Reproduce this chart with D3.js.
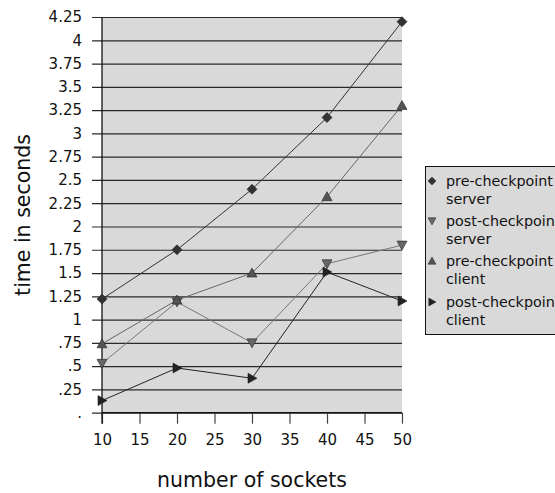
<!DOCTYPE html>
<html><head><meta charset="utf-8">
<script src="https://cdn.jsdelivr.net/npm/d3@7"></script>
<style>body{margin:0;background:#fff}svg{display:block}text{font-family:"DejaVu Sans",sans-serif;fill:#111}</style>
</head><body><svg id="c" width="555" height="493"></svg>
<script>
const sockets = [10, 20, 30, 40, 50];
const xTicks = [10, 15, 20, 25, 30, 35, 40, 45, 50];
const yTicks = [0, .25, .5, .75, 1, 1.25, 1.5, 1.75, 2, 2.25, 2.5, 2.75, 3, 3.25, 3.5, 3.75, 4, 4.25];
const yTickLabels = [".", ".25", ".5", ".75", "1", "1.25", "1.5", "1.75", "2", "2.25", "2.5", "2.75", "3", "3.25", "3.5", "3.75", "4", "4.25"];
const preServer = [1.22, 1.75, 2.40, 3.17, 4.20];
const postServer = [0.53, 1.19, 0.75, 1.60, 1.80];
const preClient = [0.74, 1.21, 1.50, 2.32, 3.30];
const postClient = [0.13, 0.48, 0.37, 1.51, 1.20];
const seriesNames = [["pre-checkpoint", "server"], ["post-checkpoint", "server"], ["pre-checkpoint", "client"], ["post-checkpoint", "client"]];

const series = [
  {vals: preServer, line: "#333", fill: "#333", shape: "diamond"},
  {vals: postServer, line: "#777", fill: "#666", shape: "down"},
  {vals: preClient, line: "#666", fill: "#555", shape: "up"},
  {vals: postClient, line: "#222", fill: "#222", shape: "right"}
];

const svg = d3.select("#c");
const L = 102, R = 402, T = 17, B = 412.7;
const x = d3.scaleLinear().domain([10, 50]).range([L, R]);
const y = d3.scaleLinear().domain([0, 4.25]).range([B, T]);

svg.append("rect").attr("x", L).attr("y", T).attr("width", R - L).attr("height", B - T).attr("fill", "#d9d9d9");

// y axis with gridlines
const yAxis = d3.axisLeft(y).tickValues(yTicks).tickSize(R - L + 10).tickPadding(10)
  .tickFormat((d, i) => yTickLabels[i]);
const gy = svg.append("g").attr("transform", `translate(${R},0)`).call(yAxis);
gy.select(".domain").remove();
gy.selectAll(".tick line").attr("stroke", "#2a2a2a").attr("stroke-width", 1.2);
gy.selectAll(".tick text").attr("font-size", 15).attr("fill", "#111").attr("font-family", "DejaVu Sans");

// x axis
const xAxis = d3.axisBottom(x).tickValues(xTicks).tickSize(11).tickPadding(11).tickFormat(d3.format("d"));
const gx = svg.append("g").attr("transform", `translate(0,${B})`).call(xAxis);
gx.select(".domain").remove();
gx.selectAll(".tick line").attr("stroke", "#444").attr("stroke-width", 1.2);
gx.selectAll(".tick text").attr("font-size", 15).attr("fill", "#111").attr("font-family", "DejaVu Sans");

svg.append("line").attr("x1", L).attr("x2", L).attr("y1", T).attr("y2", B + 11).attr("stroke", "#111").attr("stroke-width", 1.3);
svg.append("line").attr("x1", L).attr("x2", R).attr("y1", B).attr("y2", B).attr("stroke", "#111").attr("stroke-width", 1.3);

function markerPath(shape, s) {
  if (shape === "diamond") return `M0,${-s}L${s},0L0,${s}L${-s},0Z`;
  if (shape === "down") return `M${-s},${-s*0.8}L${s},${-s*0.8}L0,${s}Z`;
  if (shape === "up") return `M${-s},${s*0.8}L${s},${s*0.8}L0,${-s}Z`;
  return `M${-s*0.8},${-s}L${s},0L${-s*0.8},${s}Z`;
}

const line = d3.line().x((d, i) => x(sockets[i])).y(d => y(d));
series.forEach(s => {
  svg.append("path").attr("d", line(s.vals)).attr("fill", "none").attr("stroke", s.line).attr("stroke-width", 1);
});
series.forEach(s => {
  svg.selectAll(null).data(s.vals).enter().append("path")
    .attr("transform", (d, i) => `translate(${x(sockets[i])},${y(d)})`)
    .attr("d", markerPath(s.shape, 5)).attr("fill", s.fill).attr("stroke", "#222").attr("stroke-width", 0.6);
});

// axis titles
svg.append("text").attr("x", 252).attr("y", 487).attr("text-anchor", "middle").attr("font-size", 20.5).text("number of sockets");
svg.append("text").attr("transform", "translate(30,215) rotate(-90)").attr("text-anchor", "middle").attr("font-size", 20.5).text("time in seconds");

// legend
const lg = svg.append("g");
lg.append("rect").attr("x", 425.5).attr("y", 166.5).attr("width", 140).attr("height", 168).attr("fill", "#d9d9d9").attr("stroke", "#111").attr("stroke-width", 1);
const rowY = [181, 221, 261, 302];
seriesNames.forEach((nm, i) => {
  lg.append("path").attr("transform", `translate(432,${rowY[i]})`).attr("d", markerPath(series[i].shape, 4))
    .attr("fill", series[i].fill).attr("stroke", "#222").attr("stroke-width", 0.5);
  lg.append("text").attr("x", 446).attr("y", rowY[i] + 5).attr("font-size", 14.3).text(nm[0]);
  lg.append("text").attr("x", 446).attr("y", rowY[i] + 23).attr("font-size", 14.3).text(nm[1]);
});
</script></body></html>
